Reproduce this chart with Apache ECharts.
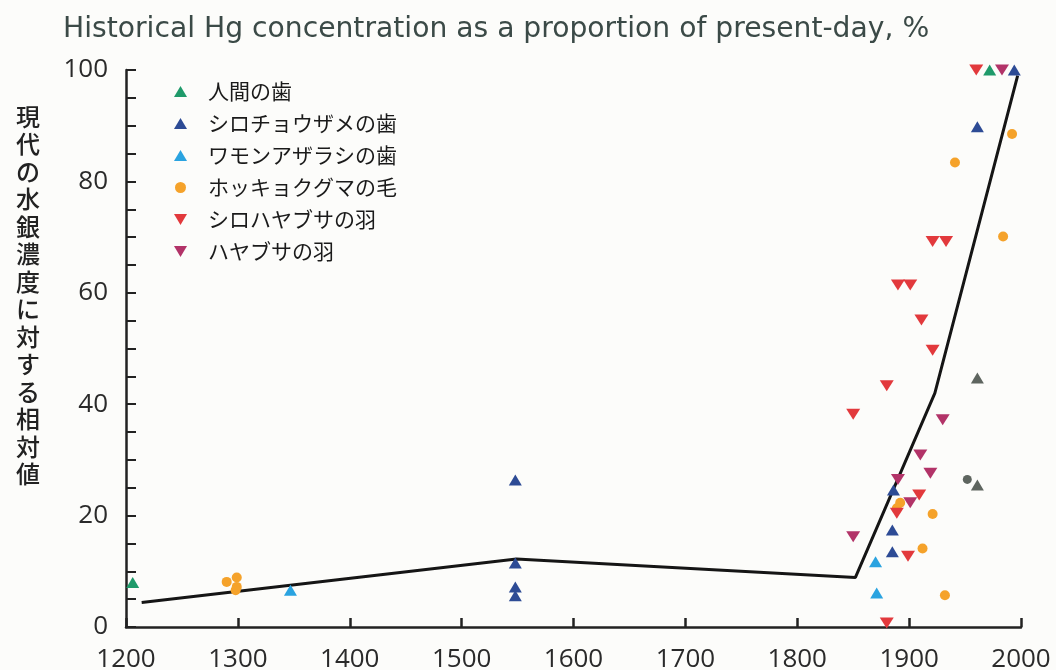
<!DOCTYPE html>
<html>
<head>
<meta charset="utf-8">
<script src="https://cdn.jsdelivr.net/npm/echarts@6/dist/echarts.min.js"></script>
<style>
  html, body { margin: 0; padding: 0; background: #fcfcfa; }
  #chart { width: 1056px; height: 670px; }
</style>
</head>
<body>
<div id="chart"></div>
<script>
// [year, % of present-day]
const humanTeeth = [[1206, 8.0], [1972, 100]];
const sturgeonTeeth = [[1548, 26.4], [1548, 11.5], [1548, 7.2], [1548, 5.6], [1885, 17.4], [1885, 13.5], [1886, 24.6], [1961, 89.8], [1994, 100]];
const sealTeeth = [[1347, 6.6], [1870, 11.7], [1871, 6.1]];
const bearHair = [[1290, 8.1], [1299, 8.9], [1299, 7.2], [1298, 6.6], [1892, 22.3], [1889, 21.3], [1921, 20.3], [1912, 14.1], [1932, 5.7], [1941, 83.4], [1992, 88.5], [1984, 70.1]];
const gyrfalconFeathers = [[1850, 38.2], [1880, 43.3], [1890, 61.4], [1901, 61.4], [1921, 69.2], [1933, 69.2], [1911, 55.1], [1921, 49.7], [1880, 0.7], [1899, 12.7], [1909, 23.7], [1889, 20.4], [1960, 100]];
const peregrineFeathers = [[1850, 16.2], [1930, 37.2], [1910, 30.9], [1919, 27.6], [1890, 26.5], [1901, 22.3], [1983, 100]];
const greyTriangles = [[1961, 44.7], [1961, 25.5]];
const greyDots = [[1952, 26.5]];
const trendLine = [[1214, 4.4], [1549, 12.2], [1852, 8.9], [1923, 42], [1997, 99]];

const seriesNames = ["人間の歯", "シロチョウザメの歯", "ワモンアザラシの歯", "ホッキョクグマの毛", "シロハヤブサの羽", "ハヤブサの羽"];
const yName = "現代の水銀濃度に対する相対値";

const downTri = "path://M0,0 L12,0 L6,10 Z";
const upTri = "path://M6,0 L12,10 L0,10 Z";

const chart = echarts.init(document.getElementById("chart"));

const scatter = (name, data, color, symbol, size) => ({
  name,
  type: "scatter",
  data,
  symbol,
  symbolSize: size,
  itemStyle: { color, opacity: 1 },
  z: 3,
});

chart.setOption({
  backgroundColor: "#fcfcfa",
  animation: false,
  textStyle: { fontFamily: "Open Sans" },
  title: {
    text: "Historical Hg concentration as a proportion of present-day, %",
    left: 58,
    top: 11,
    textStyle: { color: "#3b4a47", fontSize: 28.2, fontWeight: "normal", fontFamily: "DejaVu Sans" },
  },
  graphic: [
    {
      type: "text",
      left: 16,
      top: 103,
      style: {
        text: yName.split("").join("\n"),
        font: "500 24px 'Noto Sans CJK JP'",
        lineHeight: 27.5,
        fill: "#222",
      },
    },
  ],
  legend: {
    data: seriesNames,
    orient: "vertical",
    left: 169,
    top: 76,
    itemWidth: 13,
    itemHeight: 11,
    itemGap: 11,
    textStyle: { fontSize: 21, color: "#1a1a1a", fontFamily: "Noto Sans CJK JP", padding: [0, 0, 0, 16] },
  },
  grid: { left: 126, right: 35, top: 70, bottom: 43, outerBoundsMode: "none", containLabel: false },
  xAxis: {
    type: "value",
    min: 1200,
    max: 2000,
    interval: 100,
    axisLine: { lineStyle: { color: "#222", width: 2.5 } },
    axisTick: { inside: true, length: 9, lineStyle: { color: "#222", width: 2.5 } },
    axisLabel: { color: "#2a2a2a", fontSize: 26, margin: 20, formatter: (v) => String(v) },
    splitLine: { show: false },
  },
  yAxis: {
    type: "value",
    min: 0,
    max: 100,
    interval: 20,
    axisLine: { show: true, lineStyle: { color: "#222", width: 2.5 } },
    axisTick: { show: true, inside: true, length: 10, lineStyle: { color: "#222", width: 2 } },
    minorTick: { show: true, splitNumber: 4, length: 10, lineStyle: { color: "#222", width: 2 } },
    axisLabel: { color: "#2a2a2a", fontSize: 26, margin: 18 },
    splitLine: { show: false },
  },
  series: [
    {
      name: "trend",
      type: "line",
      data: trendLine,
      showSymbol: false,
      lineStyle: { color: "#151515", width: 3 },
      z: 2,
    },
    scatter(seriesNames[0], humanTeeth, "#1f9a6a", upTri, [13, 11]),
    scatter(seriesNames[1], sturgeonTeeth, "#2d4b95", upTri, [13, 11]),
    scatter(seriesNames[2], sealTeeth, "#2aa3e0", upTri, [13, 11]),
    scatter(seriesNames[3], bearHair, "#f5a22a", "circle", 10),
    scatter(seriesNames[4], gyrfalconFeathers, "#e2393c", downTri, [14, 11]),
    scatter(seriesNames[5], peregrineFeathers, "#b23368", downTri, [14, 11]),
    scatter("grey-tri", greyTriangles, "#5e655f", upTri, [13, 11]),
    scatter("grey-dot", greyDots, "#5e655f", "circle", 9),
  ],
});
</script>
</body>
</html>
